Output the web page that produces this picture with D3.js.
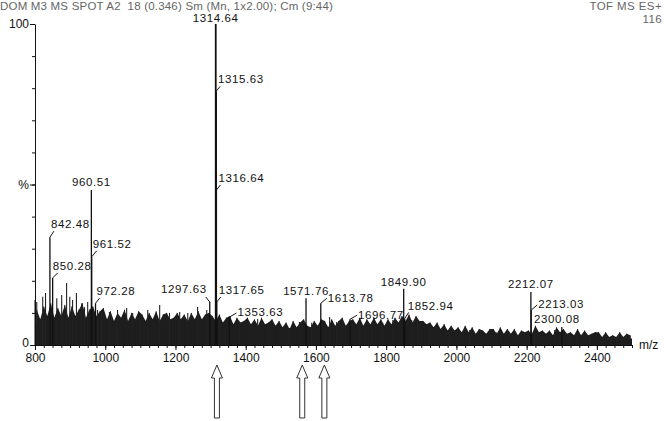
<!DOCTYPE html>
<html>
<head>
<meta charset="utf-8">
<script src="https://cdn.jsdelivr.net/npm/d3@7"></script>
<style>
    body { margin: 0; background: #fff; }
    svg text { font-family: "Liberation Sans", Arial, sans-serif; }
</style>
</head>
<body>
<div id="chart"></div>
<script>
// labelled peaks (m/z, % of base peak)
const peakMz = [842.48, 850.28, 960.51, 961.52, 972.28, 1297.63, 1314.64, 1315.63, 1316.64, 1317.65,
    1353.63, 1571.76, 1613.78, 1696.77, 1849.90, 1852.94, 2212.07, 2213.03, 2300.08];
const peakPct = [33.6, 20.9, 48.3, 27.5, 13, 13.4, 100, 79, 48.3, 13.4,
    8.7, 14.6, 13, 8, 17.5, 8.3, 16.5, 10.9, 5.6];

// unlabelled spikes sticking out of the noise
const spikeMz = [800, 805, 822, 830, 862, 876, 890, 899, 907, 918, 933, 941, 950, 978, 990, 1012, 1035,
    1061, 1078, 1098, 1121, 1155, 1183, 1212, 1235, 1263, 1289, 1326, 1383, 1434, 1468, 1497, 1525,
    1553, 1588, 1639, 1659, 1725, 1759, 1790, 1819, 1873, 1890, 1924, 1981, 2038, 2115, 2223, 2280,
    2343, 2380, 2457];
const spikePct = [14, 13.4, 15, 16.2, 14.6, 15.6, 19.3, 15, 14, 16.2, 13, 11.8, 13.4, 10.9, 10, 10.3, 10.9,
    11.5, 10, 9.3, 10.9, 12.5, 10, 10.3, 10, 11.8, 10.9, 8.1, 6.9, 8.1, 6.2, 5.6, 5.3,
    7.2, 6.9, 8.7, 7.2, 6.9, 6.9, 6.9, 7.8, 7.8, 7.5, 6.2, 5.3, 4.7, 4, 4.7, 4.7,
    3.7, 3.1, 2.5];

// ragged top of the noise, one reading per 10 m/z from 805 up
const hairPct = [
    11, 8, 12, 9, 13, 8.5, 11.5, 9, 12.5, 8.5,
    12, 9, 11, 13, 8.5, 11, 12, 9, 10.5, 11.5,
    8, 10.5, 7.5, 10, 8.5, 11, 7.5, 10, 8, 10.5,
    9.5, 7.5, 10, 8, 10.5, 7.5, 9.5, 10, 8, 8.5,
    10, 8, 9.5, 7.5, 10, 8, 10.5, 8, 9.5, 10,
    9, 7.5, 9.5, 7, 8.5, 9, 6.5, 8.5, 7, 7.5,
    8.5, 6.5, 8, 6, 8.5, 6.5, 7, 8, 6, 7.5,
    5.5, 7, 5, 7.5, 5.5, 7, 8, 6, 5.5, 7.5,
    6, 8, 7.5, 5.5, 8, 6, 7.5, 8.5, 6, 7.5,
    8, 6.5, 8.5, 6, 8, 6.5, 8.5, 6.5, 8, 6,
    8, 6.5, 8.5, 7, 9, 7.5, 9.5, 7, 9, 7.5,
    7.5, 6.5, 7, 5.5, 7, 5, 6.5, 4.5, 6, 4.5,
    5.5, 4, 6, 4, 5.5, 3.5, 5, 4.5, 3.5, 5,
    5, 3.5, 5.5, 3.5, 5, 3.5, 5, 3, 4.5, 4,
    4.5, 3.5, 6, 4, 4.5, 3.5, 4.5, 3, 5.5, 4,
    5, 3.5, 4, 3, 5, 3, 4.5, 3, 3.5, 4,
    4, 2.5, 4, 2.5, 3, 2.5, 4, 2.5, 3.5, 3];

// top of the solid noise band
const noiseMz = [800, 850, 900, 950, 1000, 1050, 1100, 1150, 1200, 1250, 1300, 1350, 1400, 1450,
    1500, 1550, 1600, 1650, 1700, 1750, 1800, 1850, 1900, 1950, 2000, 2050, 2100, 2150, 2200,
    2250, 2300, 2350, 2400, 2450, 2500];
const noisePct = [7, 7, 7, 6.5, 6, 5.5, 5.5, 5.5, 5.5, 5.5, 5.5, 5, 4.5, 4.5,
    4, 4, 4.5, 4.5, 4.5, 4.5, 5, 5, 4.5, 3.5, 3, 3, 3, 2.5, 2.5,
    2.5, 2.5, 2.5, 2, 2, 2];

const xTicks = [800, 1000, 1200, 1400, 1600, 1800, 2000, 2200, 2400];
const yTicks = [0, 50, 100];
const yTickLabels = ["0", "%", "100"];
const arrowMz = [1318, 1561, 1624];

const headerLeft = "DOM M3 MS SPOT A2  18 (0.346) Sm (Mn, 1x2.00); Cm (9:44)";
const headerRight = ["TOF MS ES+", "116"];

// where each peak label sits relative to the top of its peak
const labelLayout = {
    "842.48":  { pos: "right", tx: 1, ty: -9, lx: 4, ly: -6 },
    "850.28":  { pos: "right", tx: 0, ty: -8, lx: 5, ly: -5 },
    "960.51":  { pos: "above", tx: 0, ty: -4 },
    "961.52":  { pos: "right", tx: 1, ty: -9, lx: 5, ly: -6 },
    "972.28":  { pos: "right", tx: 1, ty: -8, lx: 4, ly: -5 },
    "1297.63": { pos: "left", tx: -3, ty: -9, lx: -4, ly: -5 },
    "1314.64": { pos: "above", tx: 0, ty: -2 },
    "1315.63": { pos: "right", tx: 2, ty: -8, lx: 4, ly: -5 },
    "1316.64": { pos: "right", tx: 2, ty: -8, lx: 4, ly: -5 },
    "1317.65": { pos: "right", tx: 2, ty: -8, lx: 4, ly: -5 },
    "1353.63": { pos: "right", tx: 8, ty: -1, lx: 7, ly: -4 },
    "1571.76": { pos: "above", tx: 0, ty: -3 },
    "1613.78": { pos: "right", tx: 7, ty: -1, lx: 6, ly: -5 },
    "1696.77": { pos: "right", tx: 8, ty: 0, lx: 7, ly: -4 },
    "1849.90": { pos: "above", tx: 0, ty: -3 },
    "1852.94": { pos: "right", tx: 3, ty: -8, lx: 4, ly: -6 },
    "2212.07": { pos: "above", tx: 0, ty: -4 },
    "2213.03": { pos: "right", tx: 7, ty: -2, lx: 6, ly: -5 },
    "2300.08": { pos: "above", tx: -5, ty: -4 }
};

const width = 664;
const height = 421;

const svg = d3.select("#chart")
    .append("svg")
    .attr("width", width)
    .attr("height", height);

const x = d3.scaleLinear().domain([800, 2500]).range([35, 632]);
const y = d3.scaleLinear().domain([0, 100]).range([345, 24]);

// header
svg.append("text")
    .attr("x", 0).attr("y", 10)
    .attr("font-size", 11.5)
    .attr("letter-spacing", 0.2)
    .attr("fill", "#666")
    .style("white-space", "pre")
    .text(headerLeft);

svg.selectAll("text.hdr-right")
    .data(headerRight)
    .join("text")
    .attr("class", "hdr-right")
    .attr("x", 662)
    .attr("y", (d, i) => 10 + i * 13)
    .attr("text-anchor", "end")
    .attr("font-size", 11.5)
    .attr("letter-spacing", 0.4)
    .attr("fill", "#666")
    .text(d => d);

// solid noise band
const noise = noiseMz.map((m, i) => ({ mz: m, pct: noisePct[i] }));
svg.append("path")
    .datum(noise)
    .attr("d", d3.area().x(d => x(d.mz)).y0(y(0)).y1(d => y(d.pct)))
    .attr("fill", "#1a1a1a");

// ragged noise top
const hairs = hairPct.map((p, i) => ({ mz: 805 + i * 10, pct: p }));
svg.append("path")
    .datum(hairs)
    .attr("d", d3.area().x(d => x(d.mz)).y0(y(0)).y1(d => y(d.pct)))
    .attr("fill", "#1e1e1e");
svg.selectAll("line.hair")
    .data(hairs)
    .join("line")
    .attr("class", "hair")
    .attr("x1", d => x(d.mz)).attr("x2", d => x(d.mz))
    .attr("y1", y(0)).attr("y2", d => y(d.pct))
    .attr("stroke", "#1e1e1e")
    .attr("stroke-width", 1);

// spikes
const spikes = spikeMz.map((m, i) => ({ mz: m, pct: spikePct[i] }));
svg.selectAll("line.spike")
    .data(spikes)
    .join("line")
    .attr("class", "spike")
    .attr("x1", d => x(d.mz)).attr("x2", d => x(d.mz))
    .attr("y1", y(0)).attr("y2", d => y(d.pct))
    .attr("stroke", "#222")
    .attr("stroke-width", 1.1);

// labelled peaks
const peaks = peakMz.map((m, i) => ({ mz: m, pct: peakPct[i], label: m.toFixed(2) }));
svg.selectAll("line.peak")
    .data(peaks)
    .join("line")
    .attr("class", "peak")
    .attr("x1", d => x(d.mz)).attr("x2", d => x(d.mz))
    .attr("y1", y(0)).attr("y2", d => y(d.pct))
    .attr("stroke", "#111")
    .attr("stroke-width", d => d.pct > 50 ? 1.8 : 1.3);

// leaders for side labels
svg.selectAll("line.leader")
    .data(peaks.filter(d => labelLayout[d.label].pos !== "above"))
    .join("line")
    .attr("class", "leader")
    .attr("x1", d => x(d.mz))
    .attr("y1", d => y(d.pct))
    .attr("x2", d => x(d.mz) + labelLayout[d.label].lx)
    .attr("y2", d => y(d.pct) + labelLayout[d.label].ly)
    .attr("stroke", "#111")
    .attr("stroke-width", 1);

svg.selectAll("text.plabel")
    .data(peaks)
    .join("text")
    .attr("class", "plabel")
    .attr("x", d => x(d.mz) + labelLayout[d.label].tx)
    .attr("y", d => y(d.pct) + labelLayout[d.label].ty)
    .attr("text-anchor", d => {
        const p = labelLayout[d.label].pos;
        return p === "above" ? "middle" : (p === "left" ? "end" : "start");
    })
    .attr("font-size", 11.5)
    .attr("letter-spacing", 0.6)
    .attr("fill", "#111")
    .text(d => d.label);

// axes
const xMinor = svg.append("g")
    .attr("transform", `translate(0,${y(0)})`)
    .call(d3.axisBottom(x).tickValues(d3.range(800, 2501, 25)).tickSize(3).tickSizeOuter(0).tickFormat(""));
xMinor.select(".domain").attr("stroke", "#111");
xMinor.selectAll(".tick line").attr("stroke", "#111");

const xAxis = svg.append("g")
    .attr("transform", `translate(0,${y(0)})`)
    .call(d3.axisBottom(x).tickValues(xTicks).tickSize(5).tickSizeOuter(0).tickPadding(3)
        .tickFormat(d3.format("d")));
xAxis.select(".domain").remove();
xAxis.selectAll(".tick line").attr("stroke", "#111");
xAxis.selectAll("text")
    .attr("font-size", 12)
    .attr("fill", "#111")
    .style("font-family", "'Liberation Sans', Arial, sans-serif");

const yMinor = svg.append("g")
    .attr("transform", `translate(${x(800)},0)`)
    .call(d3.axisLeft(y).tickValues(d3.range(0, 101, 10)).tickSize(3).tickSizeOuter(0).tickFormat(""));
yMinor.select(".domain").attr("stroke", "#111");
yMinor.selectAll(".tick line").attr("stroke", "#111");

const yAxis = svg.append("g")
    .attr("transform", `translate(${x(800)},0)`)
    .call(d3.axisLeft(y).tickValues(yTicks).tickSize(5).tickSizeOuter(0).tickPadding(1)
        .tickFormat((d, i) => yTickLabels[i]));
yAxis.select(".domain").remove();
yAxis.selectAll(".tick line").attr("stroke", "#111");
yAxis.selectAll("text")
    .attr("font-size", 12)
    .attr("fill", "#111")
    .style("font-family", "'Liberation Sans', Arial, sans-serif");
yAxis.selectAll(".tick text").filter((d, i) => i === 0).attr("dy", "0.1em");

svg.append("text")
    .attr("x", 639).attr("y", 349)
    .attr("font-size", 12)
    .attr("fill", "#111")
    .text("m/z");

// hollow arrows under the spectrum
svg.selectAll("path.arrow")
    .data(arrowMz)
    .join("path")
    .attr("class", "arrow")
    .attr("d", d => {
        const cx = x(d);
        return `M${cx},365 L${cx + 5.5},378 L${cx + 2.5},378 L${cx + 2.5},418 ` +
            `L${cx - 2.5},418 L${cx - 2.5},378 L${cx - 5.5},378 Z`;
    })
    .attr("fill", "#fff")
    .attr("stroke", "#333")
    .attr("stroke-width", 1);
</script>
</body>
</html>
